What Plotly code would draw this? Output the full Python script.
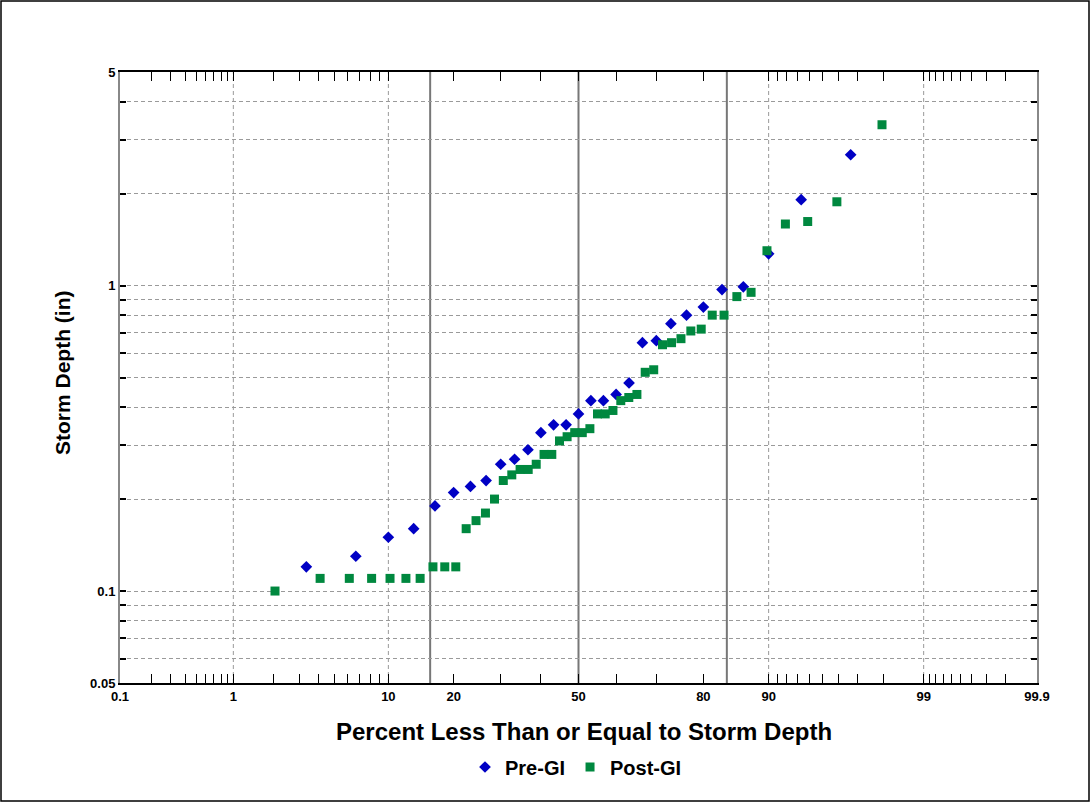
import math
from statistics import NormalDist
import plotly.graph_objects as go

# ---- data ----
pre_pct = [3.33, 6.67, 10.0, 13.33, 16.67, 20.0, 23.33, 26.67, 30.0, 33.33,
           36.67, 40.0, 43.33, 46.67, 50.0, 53.33, 56.67, 60.0, 63.33, 66.67,
           70.0, 73.33, 76.67, 80.0, 83.33, 86.67, 90.0, 93.33, 96.67]
pre_depth = [0.12, 0.13, 0.15, 0.16, 0.19, 0.21, 0.22, 0.23, 0.26, 0.27,
             0.29, 0.33, 0.35, 0.35, 0.38, 0.42, 0.42, 0.44, 0.48, 0.65,
             0.66, 0.75, 0.80, 0.85, 0.97, 0.99, 1.27, 1.91, 2.68]

post_pct = [2.04, 4.08, 6.12, 8.16, 10.20, 12.24, 14.29, 16.33, 18.37, 20.41,
            22.45, 24.49, 26.53, 28.57, 30.61, 32.65, 34.69, 36.73, 38.78, 40.82,
            42.86, 44.90, 46.94, 48.98, 51.02, 53.06, 55.10, 57.14, 59.18, 61.22,
            63.27, 65.31, 67.35, 69.39, 71.43, 73.47, 75.51, 77.55, 79.59, 81.63,
            83.67, 85.71, 87.76, 89.80, 91.84, 93.88, 95.92, 97.96]
post_depth = [0.10, 0.11, 0.11, 0.11, 0.11, 0.11, 0.11, 0.12, 0.12, 0.12,
              0.16, 0.17, 0.18, 0.20, 0.23, 0.24, 0.25, 0.25, 0.26, 0.28,
              0.28, 0.31, 0.32, 0.33, 0.33, 0.34, 0.38, 0.38, 0.39, 0.42,
              0.43, 0.44, 0.52, 0.53, 0.64, 0.65, 0.67, 0.71, 0.72, 0.80,
              0.80, 0.92, 0.95, 1.30, 1.59, 1.62, 1.88, 3.36]

x_major = [0.1, 1, 10, 20, 50, 80, 90, 99, 99.9]
x_major_labels = ["0.1", "1", "10", "20", "50", "80", "90", "99", "99.9"]
x_minor = [0.2, 0.3, 0.4, 0.5, 0.6, 0.7, 0.8, 0.9, 2, 3, 4, 5, 6, 7, 8, 9,
           30, 40, 60, 70, 91, 92, 93, 94, 95, 96, 97, 98,
           99.1, 99.2, 99.3, 99.4, 99.5, 99.6, 99.7, 99.8]
x_grid = [1, 10, 90, 99]
x_sigma_lines = [15.87, 50, 84.13]

y_major = [0.05, 0.1, 1, 5]
y_major_labels = ["0.05", "0.1", "1", "5"]
y_minor = [0.06, 0.07, 0.08, 0.09, 0.2, 0.3, 0.4, 0.5, 0.6, 0.7, 0.8, 0.9, 2, 3, 4]

nd = NormalDist()
def z(p):
    return nd.inv_cdf(p / 100.0)

FONT = "Liberation Sans, Arial, sans-serif"
BLUE = "#0000C4"
GREEN = "#00883F"
GRID = "#9a9a9a"

fig = go.Figure()
fig.add_trace(go.Scatter(
    x=[z(p) for p in pre_pct], y=pre_depth, mode="markers", name="Pre-GI",
    marker=dict(symbol="diamond", size=9, color=BLUE)))
fig.add_trace(go.Scatter(
    x=[z(p) for p in post_pct], y=post_depth, mode="markers", name="Post-GI",
    marker=dict(symbol="square", size=9, color=GREEN)))

for g in x_grid:
    fig.add_shape(type="line", xref="x", yref="paper", x0=z(g), x1=z(g), y0=0, y1=1,
                  line=dict(color=GRID, width=1, dash="4px,3px"), layer="below")
for s in x_sigma_lines:
    fig.add_shape(type="line", xref="x", yref="paper", x0=z(s), x1=z(s), y0=0, y1=1,
                  line=dict(color="#777777", width=2), layer="below")

# outer figure border
W, H = 1091, 803
L, R, T, B = 120, 54, 72, 120
pw, ph = W - L - R, H - T - B
fig.add_shape(type="rect", xref="paper", yref="paper",
              x0=(1 - L) / pw, x1=(W - 2 - L) / pw,
              y0=(ph + T - (H - 2)) / ph, y1=(ph + T - 1) / ph,
              line=dict(color="black", width=1.5), fillcolor="rgba(0,0,0,0)")

fig.update_xaxes(
    range=[z(0.1), z(99.9)], showgrid=False, zeroline=False,
    tickmode="array", tickvals=[z(v) for v in x_major], ticktext=x_major_labels,
    ticks="inside", ticklen=9, tickwidth=1, tickcolor="black",
    minor=dict(tickmode="array", tickvals=[z(v) for v in x_minor], ticks="inside",
               ticklen=9, tickwidth=1, tickcolor="black", showgrid=False),
    showline=True, linecolor="black", linewidth=2, mirror="ticks",
    tickfont=dict(family=FONT, size=13, color="black", weight="bold"),
)
fig.update_yaxes(
    type="log", range=[math.log10(0.05), math.log10(5)], zeroline=False,
    tickmode="array", tickvals=y_major, ticktext=y_major_labels,
    showgrid=True, gridcolor=GRID, griddash="4px,3px", gridwidth=1,
    ticks="inside", ticklen=6, tickwidth=1.5, tickcolor="black",
    minor=dict(tickmode="array", tickvals=y_minor, ticks="inside", ticklen=6,
               tickwidth=1.5, tickcolor="black", showgrid=True, gridcolor=GRID,
               griddash="4px,3px", gridwidth=1),
    showline=True, linecolor="#888888", linewidth=2, mirror="ticks",
    tickfont=dict(family=FONT, size=13, color="black", weight="bold"),
)

fig.add_annotation(text="<b>Percent Less Than or Equal to Storm Depth</b>",
                   xref="paper", yref="paper", x=(584 - L) / pw, y=(ph + T - 732) / ph,
                   showarrow=False, font=dict(family=FONT, size=24, color="black"),
                   xanchor="center", yanchor="middle")
fig.add_annotation(text="<b>Storm Depth (in)</b>", textangle=-90,
                   xref="paper", yref="paper", x=(62 - L) / pw, y=(ph + T - 373) / ph,
                   showarrow=False, font=dict(family=FONT, size=21, color="black"),
                   xanchor="center", yanchor="middle")

fig.update_layout(
    width=W, height=H,
    margin=dict(l=L, r=R, t=T, b=B, pad=0),
    plot_bgcolor="white", paper_bgcolor="white",
    showlegend=True,
    legend=dict(orientation="h", x=(576 - L) / pw, y=(ph + T - 767) / ph,
                xanchor="center", yanchor="middle",
                font=dict(family=FONT, size=20, color="black", weight="bold"),
                itemwidth=30, tracegroupgap=0, bgcolor="rgba(0,0,0,0)"),
)

fig.write_html("out.html", config={"displayModeBar": False},
               post_script="document.body.style.margin='0';document.body.style.overflow='hidden';")
